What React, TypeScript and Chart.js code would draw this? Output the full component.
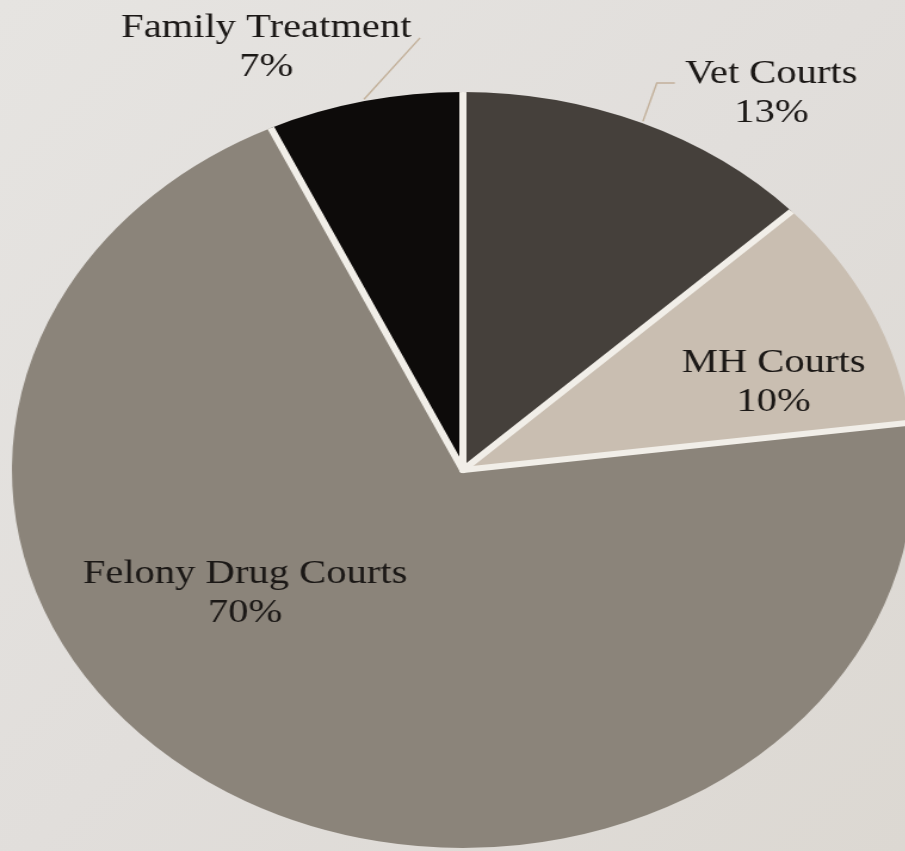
import React, { useEffect, useRef } from "react";
import { Chart, registerables } from "chart.js";

Chart.register(...registerables);

const categories = ["Vet Courts", "MH Courts", "Felony Drug Courts", "Family Treatment"];
const shares = [13, 10, 70, 7];
const valueLabels = ["13%", "10%", "70%", "7%"];
const sliceColors = ["#45403b", "#c9beb1", "#8b847a", "#0d0b0a"];

// label anchors (fractions of radius from centre) and leader lines
const labelLayout = [
  { dx: 0.684, dy: -1.024, leader: [[0.43, -1.024], [0.47, -1.024]] },
  { dx: 0.689, dy: -0.259, leader: null },
  { dx: -0.483, dy: 0.299, leader: null },
  { dx: -0.436, dy: -1.146, leader: [[-0.095, -1.143]] },
];

const STRETCH = 1.193;

const labelPlugin = {
  id: "sliceLabels",
  afterDatasetsDraw(chart: any) {
    const ctx = chart.ctx;
    const meta = chart.getDatasetMeta(0);
    // separators between slices (no outer ring)
    meta.data.forEach((arc: any) => {
      const { x, y, startAngle, outerRadius } = arc.getProps(
        ["x", "y", "startAngle", "outerRadius"],
        true
      );
      ctx.save();
      ctx.beginPath();
      ctx.arc(x, y, outerRadius, 0, Math.PI * 2);
      ctx.clip();
      ctx.strokeStyle = "#f1eee8";
      ctx.lineWidth = 6;
      ctx.lineCap = "round";
      ctx.beginPath();
      ctx.moveTo(x, y);
      ctx.lineTo(
        x + Math.cos(startAngle) * (outerRadius + 5),
        y + Math.sin(startAngle) * (outerRadius + 5)
      );
      ctx.stroke();
      ctx.restore();
    });
    meta.data.forEach((arc: any, i: number) => {
      const { x, y, startAngle, endAngle, outerRadius } = arc.getProps(
        ["x", "y", "startAngle", "endAngle", "outerRadius"],
        true
      );
      const r = outerRadius;
      const mid = (startAngle + endAngle) / 2;
      const lay = labelLayout[i];
      ctx.save();
      if (lay.leader) {
        ctx.strokeStyle = "#c2b09a";
        ctx.lineWidth = 1.4;
        ctx.beginPath();
        ctx.moveTo(x + Math.cos(mid) * r * 1.005, y + Math.sin(mid) * r * 1.005);
        lay.leader.forEach((p) => ctx.lineTo(x + p[0] * r, y + p[1] * r));
        ctx.stroke();
      }
      ctx.fillStyle = "#1b1816";
      ctx.font = '34px "Liberation Serif", "Times New Roman", serif';
      ctx.textAlign = "center";
      ctx.textBaseline = "alphabetic";
      const lx = x + lay.dx * r;
      const ly = y + lay.dy * r;
      ctx.fillText(categories[i], lx, ly);
      ctx.fillText(valueLabels[i], lx, ly + 39);
      ctx.restore();
    });
  },
};

export default function App() {
  const ref = useRef<HTMLCanvasElement | null>(null);
  useEffect(() => {
    if (!ref.current) return;
    const chart = new Chart(ref.current, {
      type: "pie",
      data: {
        labels: categories,
        datasets: [
          {
            data: shares,
            backgroundColor: sliceColors,
            borderWidth: 0,
          },
        ],
      },
      options: {
        animation: false,
        responsive: false,
        layout: { padding: { left: 10, top: 92, right: 34, bottom: 52 } },
        plugins: {
          legend: { display: false },
          tooltip: { enabled: false },
        },
      },
      plugins: [labelPlugin],
    });
    return () => chart.destroy();
  }, []);

  return (
    <div
      style={{
        position: "fixed",
        left: 0,
        top: 0,
        width: 905,
        height: 851,
        overflow: "hidden",
        background: "linear-gradient(135deg, #e6e4e1 0%, #e1dedb 50%, #dcd8d2 100%)",
      }}
    >
      <canvas
        ref={ref}
        width={800}
        height={900}
        style={{
          position: "absolute",
          left: 0,
          top: 0,
          width: 800,
          height: 900,
          transform: `scaleX(${STRETCH})`,
          transformOrigin: "0 0",
        }}
      />
    </div>
  );
}
